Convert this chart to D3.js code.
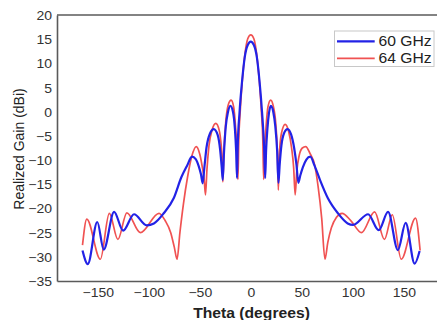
<!DOCTYPE html>
<html>
<head>
<meta charset="utf-8">
<script src="https://cdn.jsdelivr.net/npm/d3@7"></script>
<style>
  html, body { margin: 0; padding: 0; background: #fff; }
  svg { display: block; font-family: "Liberation Sans", Arial, sans-serif; }
</style>
</head>
<body>
<div id="chart"></div>
<script>
// ----- data -----
const seriesNames = ["60 GHz", "64 GHz"];
const seriesColors = ["#2222e6", "#f05252"];

const theta60 = [-165, -159.8, -150.5, -144.2, -134, -125.2, -114.5, -102, -95, -85.4, -75.6, -68, -62.6, -57.6,
  -54, -51, -48.8, -47.2, -45.5, -43.5, -40, -36.3, -32.5, -30, -28.5, -27.5,
  -26.3, -24.5, -22.5, -20, -17.5, -15.6, -14.4, -13.5, -12.9, -11, -8.6, -6, -3, 0,
  3, 6, 8.6, 11, 13, 14.1, 15, 16.3, 17.8, 19.7, 22, 24, 25.8, 27.1,
  28.3, 30, 32.5, 36, 39.5, 42.5, 44.8, 46.6, 48.5, 51, 54.5, 58.3,
  62.6, 68, 75.6, 85.4, 95, 100.3, 115, 125.4, 134.6, 144.2, 151.8, 160.6, 165.5];
const gain60 = [-28.7, -31.5, -22.8, -28.5, -20.7, -24.6, -21.2, -23.5, -23.1, -21, -17.9, -13.5, -11.2, -9.3,
  -9.8, -11.3, -13.0, -14.8, -11.5, -7.5, -4.5, -3.6, -4.8, -8, -11.5, -14.1,
  -8.5, -3, -0.2, 1.2, 0, -3.5, -8, -13.7, -7.6, 0, 6.2, 11.2, 13.8, 14.5,
  13.8, 11.2, 6.2, 0, -7, -13.7, -8, -3.5, -0.3, 1.2, 0, -3, -8, -14.7,
  -11, -7, -4.5, -3.6, -4.7, -7.5, -11, -14.7, -13.2, -11.5, -9.9, -9.3,
  -11.2, -14.2, -17.9, -21, -23.1, -23.4, -21.2, -24.5, -20.7, -28.6, -23, -31.4, -28.8];

const theta64 = [-165, -160.8, -147.5, -138.7, -130.3, -121.5, -108.3, -90, -84, -78.5, -75, -72.3,
  -69.5, -66, -62, -58, -53.5, -50, -47.5, -45.7, -44.4, -43, -41, -38, -34.3, -31, -29, -28, -27.4,
  -26.3, -24.5, -22, -19.3, -16.8, -15, -13.6, -12.6, -11.8, -10.4, -8.3, -6, -3, 0,
  3, 6, 8.3, 10.4, 11.8, 12.6, 13.6, 15, 16.8, 19.5, 22, 24.5, 26, 27,
  28, 30, 33.7, 37, 40, 42, 43.5, 45, 47.5, 50.5, 53.8, 58, 62.6, 66, 69.5, 72.7,
  75.5, 79, 84, 89.5, 98, 108.5, 121.4, 131, 138.7, 147.5, 161.5, 166];
const gain64 = [-27.6, -22.2, -30.5, -21, -26.4, -20.9, -25, -21, -22.5, -25, -28, -30.5,
  -25, -19, -13.5, -9.3, -7.2, -8.8, -11.5, -14, -17.2, -12, -7, -3.8, -2.4, -3.8, -7, -10, -14.5,
  -8, -2, 1.5, 2.4, 1, -3, -8, -14, -6, 0, 6.5, 11.5, 15.1, 15.9,
  15.1, 11.5, 6.5, 0, -6, -14, -8, -3, 1, 2.4, 1.2, -2.5, -8, -16.2,
  -9, -4.5, -2.6, -4, -7.5, -11.5, -17.2, -12.5, -9, -7.5, -7.2, -8.6, -11, -15.5, -22, -30.5,
  -27, -24, -21.8, -21, -22.5, -25, -20.7, -26.4, -21.3, -30.5, -22, -28.7];

const xTicks = [-150, -100, -50, 0, 50, 100, 150];
const yTicks = [-35, -30, -25, -20, -15, -10, -5, 0, 5, 10, 15, 20];

// ----- layout -----
const W = 437, H = 320;
const plotLeft = 57, plotTop = 15, plotBottom = 281, plotRight = 444.6;
const textStretch = 1.12; // the picture's lettering is a little wide

const svg = d3.select("#chart").append("svg")
    .attr("width", W)
    .attr("height", H);

const x = d3.scaleLinear().domain([-190, 190]).range([plotLeft, plotRight]);
const y = d3.scaleLinear().domain([-35, 20]).range([plotBottom, plotTop]);

// curves (red underneath, blue on top)
const line = d3.line()
    .x(d => x(d[0]))
    .y(d => y(d[1]))
    .curve(d3.curveMonotoneX);

const s60 = theta60.map((t, i) => [t, gain60[i]]);
const s64 = theta64.map((t, i) => [t, gain64[i]]);

svg.append("path")
    .attr("d", line(s64))
    .attr("fill", "none")
    .attr("stroke", seriesColors[1])
    .attr("stroke-width", 1.7)
    .attr("stroke-linejoin", "round");

svg.append("path")
    .attr("d", line(s60))
    .attr("fill", "none")
    .attr("stroke", seriesColors[0])
    .attr("stroke-width", 2.2)
    .attr("stroke-linejoin", "round");

// axes
const xAxis = svg.append("g")
    .attr("transform", `translate(0,${plotBottom})`)
    .call(d3.axisBottom(x).tickValues(xTicks).tickSize(0).tickPadding(7).tickSizeOuter(0));

const yAxis = svg.append("g")
    .attr("transform", `translate(${plotLeft},0)`)
    .call(d3.axisLeft(y).tickValues(yTicks).tickSize(0).tickPadding(4.5).tickSizeOuter(0));

[xAxis, yAxis].forEach(a => {
    a.select(".domain").attr("stroke", "#5a5a5a").attr("stroke-width", 1.6);
    a.selectAll("text")
        .attr("fill", "#333")
        .style("font-size", "12.5px")
        .attr("transform", `scale(${textStretch},1)`);
});
yAxis.selectAll("text").attr("dy", "0.36em");

// top edge of the frame
svg.append("line")
    .attr("x1", plotLeft).attr("x2", plotRight)
    .attr("y1", plotTop).attr("y2", plotTop)
    .attr("stroke", "#5a5a5a")
    .attr("stroke-width", 1.6);

// axis titles
svg.append("text")
    .attr("transform", `translate(251.5,318) scale(${textStretch},1)`)
    .attr("text-anchor", "middle")
    .attr("fill", "#222")
    .style("font-size", "14px")
    .style("font-weight", "bold")
    .text("Theta (degrees)");

svg.append("text")
    .attr("transform", "translate(24,149) rotate(-90)")
    .attr("text-anchor", "middle")
    .attr("fill", "#222")
    .style("font-size", "14px")
    .text("Realized Gain (dBi)");

// legend
const legend = svg.append("g");
legend.append("rect")
    .attr("x", 334.5).attr("y", 31)
    .attr("width", 99.5).attr("height", 35.5)
    .attr("fill", "#fff")
    .attr("stroke", "#c8c8c8")
    .attr("stroke-width", 1);

seriesNames.forEach((name, i) => {
    const ly = 41.3 + i * 17;
    legend.append("line")
        .attr("x1", 337).attr("x2", 374.7)
        .attr("y1", ly).attr("y2", ly)
        .attr("stroke", seriesColors[i])
        .attr("stroke-width", i === 0 ? 2.2 : 1.7);
    legend.append("text")
        .attr("transform", `translate(378.5,${ly + 5}) scale(${textStretch},1)`)
        .attr("fill", "#222")
        .style("font-size", "14px")
        .text(name);
});
</script>
</body>
</html>
